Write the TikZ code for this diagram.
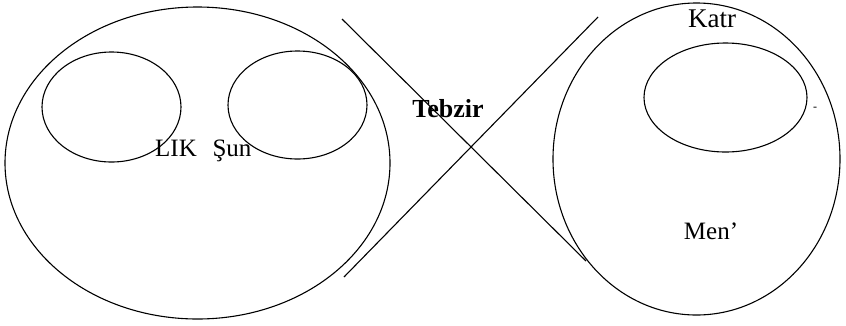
\documentclass[tikz,border=0pt]{standalone}
\usepackage{fontspec}
\setmainfont{Liberation Serif}
\usetikzlibrary{shapes.geometric}
\begin{document}
\begin{tikzpicture}[x=1pt,y=-1pt,
  oval/.style={draw, ellipse, line width=1.1pt, inner sep=0pt},
  seg/.style={line width=1.1pt},
  lbl/.style={inner sep=0pt, anchor=base, font=\fontsize{25}{25}\selectfont}]
\useasboundingbox (0,0) rectangle (846,325);
% left group
\node[oval, minimum width=385pt, minimum height=312pt] (L) at (197.5,163) {};
\node[oval, minimum width=139pt, minimum height=110pt] (L1) at (111.5,107) {};
\node[oval, minimum width=139pt, minimum height=108pt] (L2) at (297.5,105) {};
% right group
\node[oval, minimum width=287pt, minimum height=312pt] (R) at (696.5,159) {};
\node[oval, minimum width=163pt, minimum height=109pt] (R1) at (725.5,97.5) {};
% crossing lines
\coordinate (a1) at (342,19);
\coordinate (a2) at (586,261);
\coordinate (b1) at (598,17);
\coordinate (b2) at (344,277);
\draw[seg] (a1) -- (a2);
\draw[seg] (b1) -- (b2);
% labels
\node[lbl, font=\fontsize{26}{26}\selectfont\bfseries] (teb) at (448,117) {Tebzir};
\node[lbl, font=\fontsize{27}{27}\selectfont] (katr) at (712,27) {Katr};
\node[lbl] (men) at (711,239) {Men'};
\node[lbl] (lik) at (176,156) {LIK};
\node[lbl] (sun) at (232,156) {Şun};
\node[lbl, font=\fontsize{12}{12}\selectfont] (dash) at (815,110) {-};
\end{tikzpicture}
\end{document}
